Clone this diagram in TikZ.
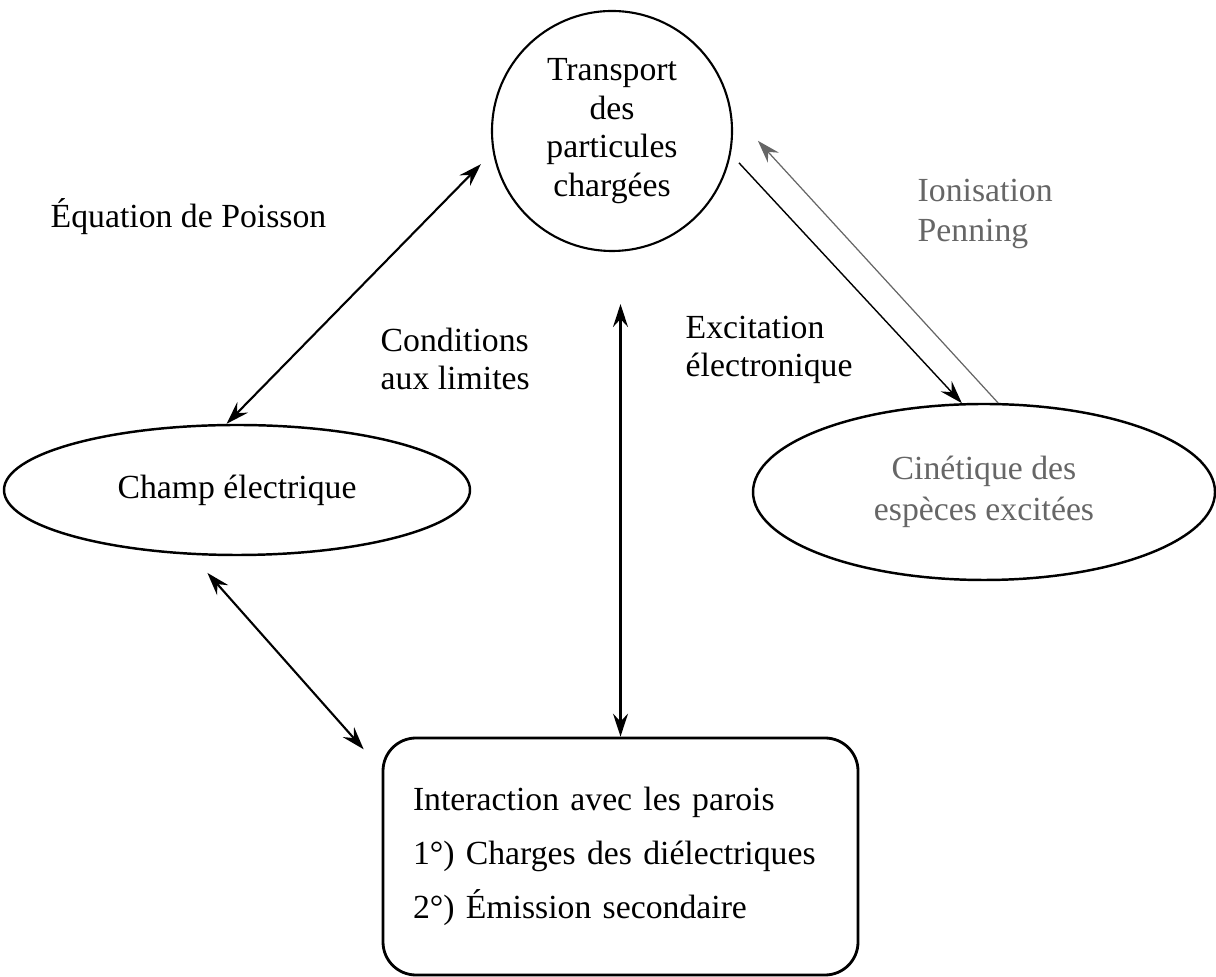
\documentclass[tikz,border=0pt]{standalone}
\usepackage{fontspec}
\setmainfont{Liberation Serif}
\usetikzlibrary{arrows.meta,shapes.geometric}

\begin{document}
\begin{tikzpicture}
[>={Stealth[length=2.3mm,width=1.5mm,inset=0.8mm]},
every node/.style={font=\fontsize{9.6}{11}\selectfont},
bubble/.style={draw,ellipse,line width=0.7pt,inner sep=0pt},
label/.style={inner sep=0pt,align=left},
link/.style={<->,line width=0.6pt},
faint/.style={black!60}]
  \useasboundingbox (0,0) rectangle (12.16,-9.77);
  \node[draw,circle,line width=0.6pt,minimum size=2.4cm,inner sep=0pt,align=center] (transport) at (6.12,-1.31) {Transport\\des\\particules\\chargées};
  \node[bubble,minimum width=4.66cm,minimum height=1.3cm] (champ) at (2.37,-4.90) {Champ électrique};
  \node[bubble,minimum width=4.62cm,minimum height=1.76cm,align=center,text=black!60,font=\fontsize{9.6}{11.6}\selectfont] (cinetique) at (9.84,-4.92) {Cinétique des\\espèces excitées};
  \node[draw,rounded corners=0.33cm,line width=0.8pt,minimum width=4.75cm,minimum height=2.37cm,text width=4.15cm,align=left,font=\fontsize{9.6}{15.4}\selectfont] (parois) at (6.205,-8.565) {Interaction avec les parois\\1°) Charges des diélectriques\\2°) Émission secondaire};
  \node[label,anchor=base west] (poisson) at (0.50,-2.28) {Équation de Poisson};
  \node[label,anchor=west] (limites) at (3.80,-3.59) {Conditions\\aux limites};
  \node[label,anchor=west] (excitation) at (6.85,-3.50) {Excitation\\électronique};
  \node[label,anchor=west,faint,font=\fontsize{9.6}{11.3}\selectfont] (penning) at (9.17,-2.14) {Ionisation\\Penning};
  \draw[link,shorten <=0.17cm] (transport.190.5) -- (champ.99);
  \draw[link,shorten <=0.24cm,shorten >=0.27cm] (champ.235) -- (parois.160.6);
  \draw[link,shorten <=0.52cm] (parois.north |- transport.south) -- (parois.north);
  \draw[->,line width=0.4pt,shorten <=0.12cm] (transport.-11) -- (cinetique.104);
  \draw[->,line width=0.35pt,faint,shorten >=0.39cm] (cinetique.81) -- (transport.9);
\end{tikzpicture}
\end{document}
